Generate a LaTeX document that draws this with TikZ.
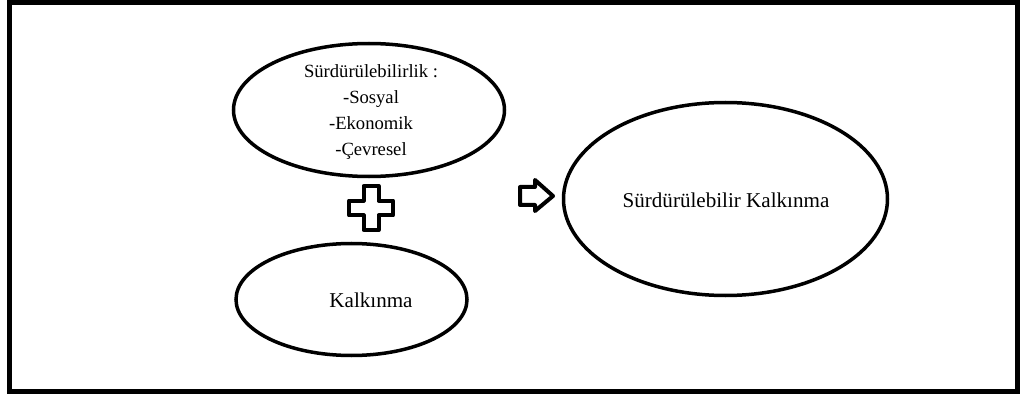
\documentclass[tikz,border=0pt]{standalone}
\usepackage{fontspec}
\setmainfont{Liberation Serif}
\usepackage{tikz}
\usetikzlibrary{shapes.geometric, positioning, calc}

\tikzset{
  bubble/.style={draw, ellipse, line width=0.07cm, inner sep=0pt, outer sep=0pt},
  bigtext/.style={font=\fontsize{12}{14}\selectfont, align=center},
  smalltext/.style={font=\fontsize{10.6}{14.8}\selectfont, align=center},
  symbol/.style={draw, line width=0.08cm, line join=round}
}

\begin{document}
\begin{tikzpicture}
\useasboundingbox (0,0) rectangle (20.48,7.96);

% Outer frame
\draw[line width=0.1cm] (0.19,0.14) rectangle (20.35,7.91);

% Ellipses
\node[bubble, minimum width=5.42cm, minimum height=2.66cm] (surd) at (7.38, 5.76) {};
\node[bubble, minimum width=4.62cm, minimum height=2.24cm] (kalk) at (7.03, 1.97) {};
\node[bubble, minimum width=6.48cm, minimum height=3.86cm] (result) at (14.51, 3.98) {};

% Texts
\node[smalltext] (surdtext) at (7.42, 5.72) {Sürdürülebilirlik :\\-Sosyal\\-Ekonomik\\-Çevresel};
\node[bigtext] (kalktext) at (7.42, 1.96) {Kalkınma};
\node[bigtext] (resulttext) at (14.52, 3.96) {Sürdürülebilir Kalkınma};

% Plus sign
\begin{scope}[shift={(7.42, 3.80)}]
\draw[symbol] (-0.15,0.44) -- (0.15,0.44) -- (0.15,0.15) -- (0.44,0.15) -- (0.44,-0.15)
  -- (0.15,-0.15) -- (0.15,-0.44) -- (-0.15,-0.44) -- (-0.15,-0.15) -- (-0.44,-0.15)
  -- (-0.44,0.15) -- (-0.15,0.15) -- cycle;
\end{scope}

% Arrow
\draw[symbol] (10.4,4.22) -- (10.7,4.22) -- (10.7,4.36) -- (11.06,4.04) -- (10.7,3.74)
  -- (10.7,3.86) -- (10.4,3.86) -- cycle;
\end{tikzpicture}
\end{document}
